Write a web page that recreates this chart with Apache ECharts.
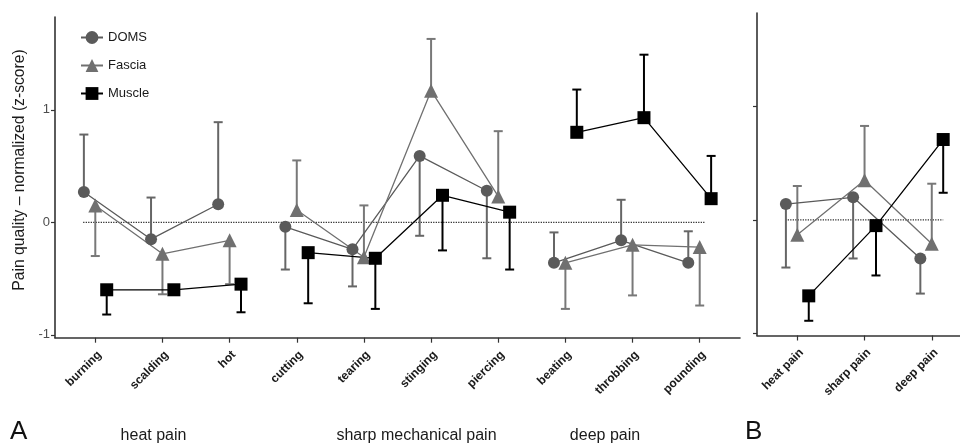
<!DOCTYPE html>
<html><head><meta charset="utf-8">
<script src="https://cdn.jsdelivr.net/npm/echarts@6/dist/echarts.min.js"></script>
<style>html,body{margin:0;padding:0;background:#fff}#c{width:960px;height:444px}</style>
</head><body><div id="c"></div>
<script>
// ---------- data ----------
const categories = ['burning','scalding','hot','cutting','tearing','stinging','piercing','beating','throbbing','pounding'];
const groupNames = ['heat pain','sharp mechanical pain','deep pain'];
const groupStart = [0, 3, 7];
const groupEnd = [2, 6, 9];
const domsMean   = [0.27,-0.15, 0.16,-0.04,-0.24, 0.59, 0.28,-0.36,-0.16,-0.36];
const domsErr    = [0.78, 0.22, 0.89,-0.42,-0.57,-0.12,-0.32,-0.09, 0.20,-0.08];
const fasciaMean = [0.15,-0.28,-0.16, 0.11,-0.31, 1.17, 0.23,-0.36,-0.20,-0.22];
const fasciaErr  = [-0.30,-0.64,-0.55, 0.55, 0.15, 1.63, 0.81,-0.77,-0.65,-0.74];
const muscleMean = [-0.60,-0.60,-0.55,-0.27,-0.32, 0.24, 0.09, 0.80, 0.93, 0.21];
const muscleErr  = [-0.82, null,-0.80,-0.72,-0.77,-0.25,-0.42, 1.18, 1.49, 0.59];

const bCategories = ['heat pain','sharp pain','deep pain'];
const bDomsMean   = [0.14, 0.20,-0.34];
const bDomsErr    = [-0.42,-0.34,-0.65];
const bFasciaMean = [-0.13, 0.35,-0.21];
const bFasciaErr  = [0.30, 0.83, 0.32];
const bMuscleMean = [-0.67,-0.05, 0.71];
const bMuscleErr  = [-0.89,-0.49, 0.24];
const bNoteCat    = [0, 0, 2, 2];
const bNoteSeries = ['DOMS','Fascia','DOMS','Fascia'];
const bNoteText   = ['*','\u2020','*','\u2020'];
const bNoteY      = [-0.56, 0.47, -0.77, 0.44];
const yTicks = [-1, 0, 1];

// ---------- styling ----------
const FONT = 'Liberation Sans, Arial, sans-serif';
const types = {
  DOMS:   {symbol:'circle',   size:12, color:'#5a5a5a', barColor:'#666666', off:-0.17},
  Fascia: {symbol:'triangle', size:14, color:'#707070', barColor:'#787878', off:0},
  Muscle: {symbol:'rect',     size:13, color:'#000000', barColor:'#000000', off:0.17}
};
const AX = '#333333';

function errSeries(name, gi, xs, means, errs){
  const t = types[name];
  const data = [];
  xs.forEach((x,i)=>{ if(errs[i]!==null) data.push([x + t.off, means[i], errs[i]]); });
  return {
    type:'custom', name:name+'_err', xAxisIndex:gi, yAxisIndex:gi, z:1, silent:true,
    encode:{x:0, y:[1,2]},
    data:data,
    renderItem:function(params, api){
      const p0 = api.coord([api.value(0), api.value(1)]);
      const p1 = api.coord([api.value(0), api.value(2)]);
      const st = {stroke:t.barColor, lineWidth:2};
      return {type:'group', children:[
        {type:'line', shape:{x1:p0[0],y1:p0[1],x2:p1[0],y2:p1[1]}, style:st},
        {type:'line', shape:{x1:p1[0]-4.5,y1:p1[1],x2:p1[0]+4.5,y2:p1[1]}, style:st}
      ]};
    }
  };
}
function lineSeries(name, gi, pts){
  const t = types[name];
  return {
    type:'line', name:name, xAxisIndex:gi, yAxisIndex:gi, z:3,
    data:pts.map(p=>[p[0]+t.off, p[1]]),
    symbol:t.symbol, symbolSize:t.size, showSymbol:true,
    itemStyle:{color:t.color, opacity:1},
    lineStyle:{color:t.color, width:1.3},
    emphasis:{disabled:true}
  };
}

const series = [];
// zero dotted reference lines
series.push({type:'line', xAxisIndex:0, yAxisIndex:0, z:0, symbol:'none', silent:true,
  data:[[0.82,0],[10.08,0]], lineStyle:{color:'#222', width:1.2, type:[1.2,1.3]}});
series.push({type:'line', xAxisIndex:1, yAxisIndex:1, z:0, symbol:'none', silent:true,
  data:[[0.82,0],[3.17,0]], lineStyle:{color:'#222', width:1.2, type:[1.2,1.3]}});

const aX = categories.map((c,i)=>i+1);
series.push(errSeries('DOMS',0,aX,domsMean,domsErr));
series.push(errSeries('Fascia',0,aX,fasciaMean,fasciaErr));
series.push(errSeries('Muscle',0,aX,muscleMean,muscleErr));
const aSets = {DOMS:domsMean, Fascia:fasciaMean, Muscle:muscleMean};
['DOMS','Fascia','Muscle'].forEach(n=>{
  groupStart.forEach((s,g)=>{
    const pts=[];
    for(let i=s;i<=groupEnd[g];i++) pts.push([i+1, aSets[n][i]]);
    series.push(lineSeries(n,0,pts));
  });
});
const bX = bCategories.map((c,i)=>i+1);
series.push(errSeries('DOMS',1,bX,bDomsMean,bDomsErr));
series.push(errSeries('Fascia',1,bX,bFasciaMean,bFasciaErr));
series.push(errSeries('Muscle',1,bX,bMuscleMean,bMuscleErr));
const bSets = {DOMS:bDomsMean, Fascia:bFasciaMean, Muscle:bMuscleMean};
['DOMS','Fascia','Muscle'].forEach(n=>{
  series.push(lineSeries(n,1,bX.map((x,i)=>[x,bSets[n][i]])));
});
series.push({type:'scatter', xAxisIndex:1, yAxisIndex:1, z:4, silent:true,
  symbolSize:1, itemStyle:{opacity:0},
  data:bNoteText.map((t,i)=>[bNoteCat[i]+1+types[bNoteSeries[i]].off, bNoteY[i], t]),
  label:{show:true, position:'inside', formatter:p=>p.data[2], fontSize:19, color:'#111', fontFamily:FONT}
});

function xAxis(gi, cats, max){
  return {type:'value', gridIndex:gi, min:0.4, max:max,
    axisLine:{show:true, onZero:false, lineStyle:{color:AX, width:1.6}},
    axisTick:{show:true, length:5, lineStyle:{color:AX, width:1.2}, customValues:cats.map((c,i)=>i+1)},
    axisLabel:{show:true, customValues:cats.map((c,i)=>i+1), rotate:45, margin:11,
      align:'right', verticalAlign:'top',
      fontSize:12, fontWeight:'bold', color:'#1a1a1a', fontFamily:FONT,
      formatter:v=>cats[Math.round(v)-1]},
    splitLine:{show:false}};
}
function yAxis(gi, min, max, labels){
  return {type:'value', gridIndex:gi, min:min, max:max,
    axisLine:{show:true, onZero:false, lineStyle:{color:AX, width:1.6}},
    axisTick:{show:true, length:4, lineStyle:{color:AX, width:1.2}, customValues:yTicks},
    axisLabel:{show:labels, customValues:yTicks, fontSize:13, color:'#4d4d4d', fontFamily:FONT, margin:5},
    splitLine:{show:false}};
}

const option = {
  animation:false,
  backgroundColor:'#fff',
  textStyle:{fontFamily:FONT},
  grid:[
    {left:55, top:17, width:685, height:320.7},
    {left:757, top:13, width:203, height:322.5}
  ],
  xAxis:[xAxis(0,categories,10.6), xAxis(1,bCategories,3.42)],
  yAxis:[yAxis(0,-1.026,1.825,true), yAxis(1,-1.02,1.827,false)],
  legend:{data:['DOMS','Fascia','Muscle'], orient:'vertical', left:75, top:26,
    itemWidth:22, itemHeight:16, itemGap:15, selectedMode:false,
    lineStyle:{width:2},
    textStyle:{fontSize:13, color:'#1a1a1a', fontFamily:FONT}},
  graphic:[
    {type:'text', x:20, y:170, rotation:Math.PI/2, style:{text:'Pain quality \u2013 normalized (z-score)', font:'15.7px '+FONT, fill:'#1a1a1a', align:'center', verticalAlign:'middle'}},
    {type:'text', x:10, y:432, style:{text:'A', font:'26px '+FONT, fill:'#111', align:'left', verticalAlign:'middle'}},
    {type:'text', x:745, y:432, style:{text:'B', font:'26px '+FONT, fill:'#111', align:'left', verticalAlign:'middle'}},
    {type:'text', x:153.5, y:436, style:{text:groupNames[0], font:'16px '+FONT, fill:'#1a1a1a', align:'center', verticalAlign:'middle'}},
    {type:'text', x:416.5, y:436, style:{text:groupNames[1], font:'16px '+FONT, fill:'#1a1a1a', align:'center', verticalAlign:'middle'}},
    {type:'text', x:605, y:436, style:{text:groupNames[2], font:'16px '+FONT, fill:'#1a1a1a', align:'center', verticalAlign:'middle'}}
  ],
  series:series
};
const chart = echarts.init(document.getElementById('c'), null, {renderer:'canvas'});
chart.setOption(option);
</script></body></html>
